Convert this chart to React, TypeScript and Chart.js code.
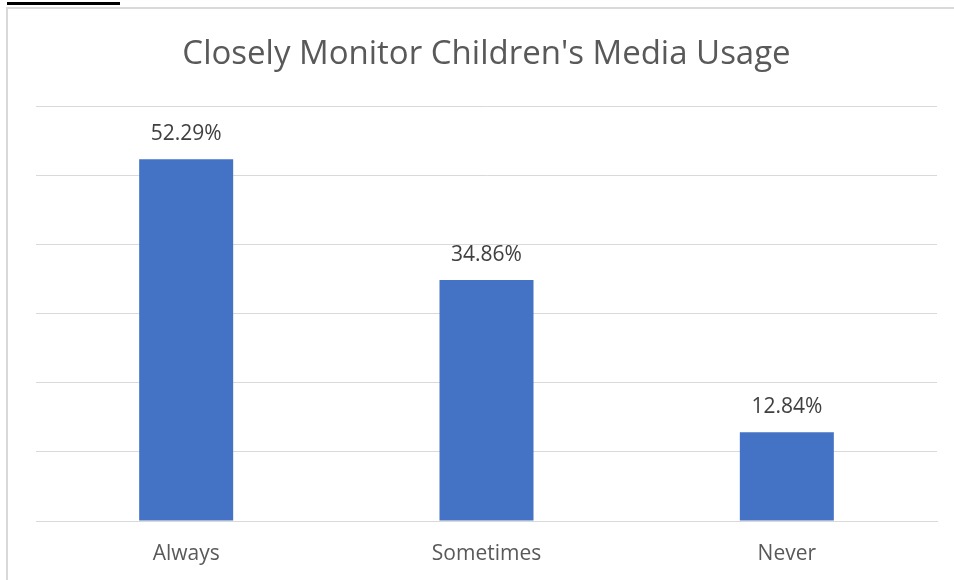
import React, { useEffect, useRef } from "react";
import { Chart, registerables } from "chart.js";

Chart.register(...registerables);

const categories = ["Always", "Sometimes", "Never"];
const values = [52.29, 34.86, 12.84];
const valueLabels = ["52.29%", "34.86%", "12.84%"];
const titleText = "Closely Monitor Children's Media Usage";

const FONT = "'Open Sans', 'Liberation Sans', sans-serif";

const dataLabelPlugin = {
  id: "dataLabels",
  afterDatasetsDraw(chart: any) {
    const ctx = chart.ctx;
    const meta = chart.getDatasetMeta(0);
    ctx.save();
    ctx.font = `21px ${FONT}`;
    ctx.fillStyle = "#404040";
    ctx.textAlign = "center";
    ctx.textBaseline = "middle";
    meta.data.forEach((bar: any, i: number) => {
      ctx.fillText(valueLabels[i], bar.x, bar.y - 25);
    });
    ctx.restore();
  },
};

export default function App() {
  const ref = useRef<HTMLCanvasElement>(null);
  useEffect(() => {
    if (!ref.current) return;
    const chart = new Chart(ref.current, {
      type: "bar",
      data: {
        labels: categories,
        datasets: [
          {
            data: values,
            backgroundColor: "#4472c4",
            borderWidth: 0,
            barPercentage: 0.626,
            categoryPercentage: 0.5,
          },
        ],
      },
      options: {
        animation: false,
        responsive: false,
        maintainAspectRatio: false,
        layout: { padding: { left: 36, right: 17, top: 0, bottom: 0 } },
        plugins: {
          legend: { display: false },
          tooltip: { enabled: false },
          title: {
            display: true,
            text: titleText,
            color: "#595959",
            font: { family: FONT, size: 33, weight: "normal" as any, lineHeight: 1.2 },
            padding: { top: 35, bottom: 31.4 },
          },
        },
        scales: {
          x: {
            grid: { display: false, drawTicks: false },
            border: { display: true, color: "#d9d9d9", width: 1 },
            ticks: {
              color: "#595959",
              font: { family: FONT, size: 21 },
              padding: 20,
            },
            afterFit(scale: any) {
              scale.height = 59;
            },
          },
          y: {
            min: 0,
            max: 60,
            ticks: { display: false, stepSize: 10 },
            grid: { color: "#d9d9d9", lineWidth: 1, drawTicks: false },
            border: { display: false },
            afterFit(scale: any) {
              scale.width = 0;
            },
          },
        },
      },
      plugins: [dataLabelPlugin],
    });
    return () => chart.destroy();
  }, []);

  return (
    <div style={{ position: "fixed", left: 0, top: 0, width: 954, height: 580, background: "#fff", overflow: "hidden" }}>
      <div style={{ position: "absolute", left: 7, top: 2, width: 113, height: 3, background: "#000" }} />
      <div
        style={{
          position: "absolute",
          left: 6,
          top: 7,
          width: 1000,
          height: 1000,
          border: "2px solid #d9d9d9",
          boxSizing: "border-box",
        }}
      />
      <canvas ref={ref} width={954} height={580} style={{ position: "absolute", left: 0, top: 0 }} />
    </div>
  );
}
